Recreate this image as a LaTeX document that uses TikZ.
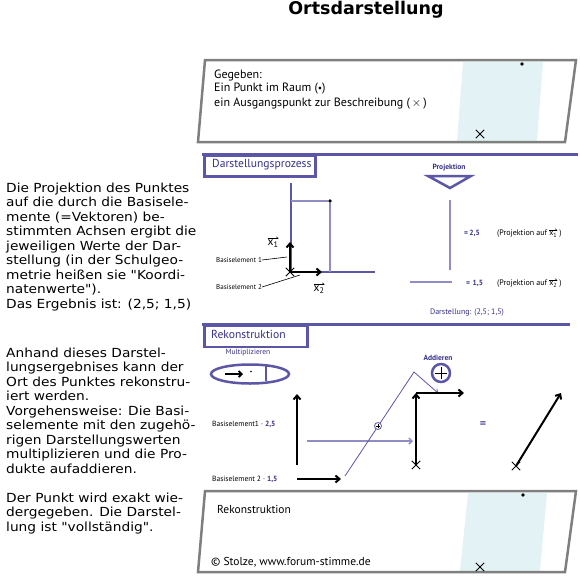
\documentclass[tikz,border=0pt]{standalone}
\usepackage{fontspec}
\setmainfont{PT Sans}
\newfontfamily\verd[FakeStretch=1.1]{DejaVu Sans}
\newfontfamily\verdb{DejaVu Sans}
\usetikzlibrary{arrows.meta,shapes.misc,shapes.geometric}
\definecolor{boxgrey}{HTML}{7F7F7F}
\definecolor{lcyan}{HTML}{E3F2F4}
\definecolor{purp}{HTML}{5B57A6}
\definecolor{lpurp}{HTML}{8F8CC8}
\definecolor{ptext}{HTML}{35318A}
\newsavebox\hvbox
\newcommand\hvec[1]{\sbox\hvbox{#1}%
  \rlap{\raisebox{\dimexpr\ht\hvbox+1.2pt\relax}{\rule{\wd\hvbox}{0.45pt}}}%
  \rlap{\kern\dimexpr\wd\hvbox-2.4pt\relax\raisebox{\dimexpr\ht\hvbox+2.9pt\relax}{\rotatebox{-35}{\rule{2.9pt}{0.45pt}}}}%
  \usebox\hvbox}
\tikzset{
  gbox/.style={draw=boxgrey,line width=2.5pt,line join=miter},
  cyanreg/.style={fill=lcyan,draw=none},
  hdrbox/.style={draw=purp,line width=2.5pt,inner sep=0pt,anchor=north west,fill=white},
  hdrline/.style={draw=purp,line width=3pt},
  hdrtxt/.style={text=ptext,font=\fontsize{11.6}{14}\selectfont,anchor=west,inner sep=0pt},
  boxtxt/.style={font=\fontsize{12}{14}\selectfont,anchor=west,inner sep=0pt},
  small/.style={font=\fontsize{7}{8}\selectfont,inner sep=0pt},
  psmall/.style={font=\fontsize{7.5}{9}\selectfont,text=ptext,inner sep=0pt},
  lefttxt/.style={font={\verd\fontsize{12.5}{14.5}\selectfont},align=left,anchor=north west,inner sep=0pt},
  cross/.style={draw=black,cross out,minimum size=7.5pt,inner sep=0pt,line width=0.9pt},
  pt/.style={circle,fill=black,inner sep=0pt,minimum size=3.6pt},
  barrow/.style={draw=black,line width=2pt,-{Straight Barb[length=4pt,width=7pt]}},
  axis/.style={draw=purp,line width=2pt},
  thinp/.style={draw=lpurp,line width=1.2pt},
  leader/.style={draw=black,line width=0.6pt},
}
\begin{document}
\begin{tikzpicture}[x=1pt,y=-1pt]
\useasboundingbox (0,0) rectangle (580,576);

% Title
\node[font={\verdb\bfseries\fontsize{17.5}{19}\selectfont}] (title) at (366,10) {Ortsdarstellung};

% Left texts
\node[lefttxt] (t1) at (6,182.3) {Die Projektion des Punktes\\auf die durch die Basisele-\\mente (=Vektoren) be-\\stimmten Achsen ergibt die\\jeweiligen Werte der Dar-\\stellung (in der Schulgeo-\\metrie hei\ss en sie "Koordi-\\natenwerte").\\Das Ergebnis ist: (2,5; 1,5)};
\node[lefttxt] (t2) at (6,347.3) {Anhand dieses Darstel-\\lungsergebnises kann der\\Ort des Punktes rekonstru-\\iert werden.\\Vorgehensweise: Die Basi-\\selemente mit den zugeh\"o-\\rigen Darstellungswerten\\multiplizieren und die Pro-\\dukte aufaddieren.};
\node[lefttxt] (t3) at (6,492.3) {Der Punkt wird exakt wie-\\dergegeben. Die Darstel-\\lung ist "vollst\"andig".};

% Box 1: Gegeben
\fill[cyanreg] (463,62) -- (543,62) -- (537,141) -- (457,141) -- cycle;
\draw[gbox] (205,60) -- (576,60) -- (565,142) -- (198,142) -- cycle;
\node[pt] (p1) at (522,64) {};
\node[cross] (c1) at (480,134) {};
\node[boxtxt] (g1) at (214,75) {Gegeben:};
\node[boxtxt] (g2) at (214,89) {Ein Punkt im Raum (\raisebox{0.5pt}{\scalebox{0.8}{•}})};
\node[boxtxt] (g3) at (214,104) {ein Ausgangspunkt zur Beschreibung ($\,\times\,$)};

% Section: Darstellungsprozess
\draw[hdrline] (202,154) -- (578,154);
\node[hdrbox,minimum width=111pt,minimum height=21pt] (hd1) at (203.2,154) {};
\node[hdrtxt] (hd1t) at (212,164.5) {Darstellungsprozess};

\coordinate (O) at (290,272);
\coordinate (ytop) at (291,183);
\coordinate (xend) at (375,272);
\coordinate (py) at (291,201);
\coordinate (px) at (330,272);
\draw[axis] (ytop) -- (291,272) -- (xend);
\node[pt] (P) at (330,201) {};
\draw[thinp] (py) -- (P) -- (px);
\coordinate (e1) at (290,242);
\coordinate (e2) at (322,272);
\draw[barrow] (O) -- (e1);
\draw[barrow] (O) -- (e2);
\node[cross] (cO) at (O) {};
\node[font=\fontsize{11.5}{12}\selectfont,inner sep=0pt] (x1) at (273,242) {\hvec{x\textsubscript{1}}};
\node[font=\fontsize{11.5}{12}\selectfont,inner sep=0pt] (x2) at (319,288) {\hvec{x\textsubscript{2}}};
\node[small,anchor=west] (b1) at (216,260) {Basiselement 1};
\node[small,anchor=west] (b2) at (216,287) {Basiselement 2};
\coordinate (b1e) at (287,257);
\coordinate (b2e) at (300,275);
\draw[leader] (b1.east) -- (b1e);
\draw[leader] (b2.east) -- (b2e);

% Projektion
\node[psmall,font=\bfseries\fontsize{7.5}{9}\selectfont] (proj) at (449,168) {Projektion};
\draw[draw=purp,line width=2.5pt,line join=miter] (428,176) -- (471,176) -- (450,188) -- cycle;
\coordinate (v1) at (450,200);
\coordinate (v2) at (450,270);
\coordinate (h1) at (410,282);
\coordinate (h2) at (452,282);
\draw[draw=lpurp,line width=2pt] (v1) -- (v2);
\draw[draw=lpurp,line width=1.5pt] (h1) -- (h2);
\node[psmall,font=\bfseries\fontsize{7.5}{9}\selectfont,anchor=west] (eq1) at (464,233) {=\,2,5};
\node[psmall,font=\bfseries\fontsize{7.5}{9}\selectfont,anchor=west] (eq2) at (466,283) {=\,\,1,5};
\node[small,font=\fontsize{8}{9}\selectfont,anchor=west] (pr1) at (497,233) {(Projektion auf \hvec{x\textsubscript{1}} )};
\node[small,font=\fontsize{8}{9}\selectfont,anchor=west] (pr2) at (497,283) {(Projektion auf \hvec{x\textsubscript{2}} )};
\node[psmall,font=\fontsize{8}{9}\selectfont] (dar) at (467,313) {Darstellung: (2,5; 1,5)};

% Section: Rekonstruktion
\draw[hdrline] (202,324) -- (570,324);
\node[hdrbox,minimum width=103pt,minimum height=21.5pt] (hd2) at (203.2,324) {};
\node[hdrtxt] (hd2t) at (211,334.5) {Rekonstruktion};

\node[psmall] (mul) at (248,353) {Multiplizieren};
\node[ellipse,draw=purp,line width=2.5pt,minimum width=78pt,minimum height=19pt,inner sep=0pt] (ell) at (250,374) {};
\coordinate (ma1) at (225,374);
\coordinate (ma2) at (243,374);
\draw[draw=black,line width=1.8pt,-{Straight Barb[length=3pt,width=6pt]}] (ma1) -- (ma2);
\fill (251,371.5) circle (0.8);
\coordinate (ml1) at (266,366);
\coordinate (ml2) at (266,381);
\draw[draw=purp,line width=1.5pt] (ml1) -- (ml2);

\coordinate (r1a) at (297,465);
\coordinate (r1b) at (297,394);
\draw[barrow] (r1a) -- (r1b);
\coordinate (r2a) at (297,479);
\coordinate (r2b) at (341,479);
\draw[barrow] (r2a) -- (r2b);
\node[small,font=\fontsize{7.5}{9}\selectfont,anchor=west] (rb1) at (212,424) {Basiselement1 · \textcolor{ptext}{\bfseries 2,5}};
\node[small,font=\fontsize{7.5}{9}\selectfont,anchor=west] (rb2) at (212,479) {Basiselement 2 · \textcolor{ptext}{\bfseries 1,5}};

\coordinate (la1) at (307,441);
\coordinate (la2) at (413,441);
\draw[draw=lpurp,line width=1.5pt,-{Straight Barb[length=3pt,width=6pt]}] (la1) -- (la2);
\coordinate (d1) at (345,476);
\coordinate (d2) at (414,372);
\coordinate (d3) at (438,393);
\draw[draw=purp,line width=0.8pt,-{Straight Barb[length=3pt,width=5pt]}] (d1) -- (d2) -- (d3);
\node[circle,draw=purp,line width=0.8pt,fill=white,minimum size=7pt,inner sep=0pt] (sp) at (378,426) {};
\draw[line width=0.6pt] ([xshift=-2pt]sp.center) -- ([xshift=2pt]sp.center);
\draw[line width=0.6pt] ([yshift=-2pt]sp.center) -- ([yshift=2pt]sp.center);

\node[psmall,font=\bfseries\fontsize{7.5}{9}\selectfont] (add) at (438,358) {Addieren};
\node[circle,draw=purp,line width=2.5pt,minimum size=18pt,inner sep=0pt] (ap) at (441,373) {};
\draw[line width=1pt] ([xshift=-6pt]ap.center) -- ([xshift=6pt]ap.center);
\draw[line width=1pt] ([yshift=-6pt]ap.center) -- ([yshift=6pt]ap.center);

\coordinate (L0) at (416,465);
\coordinate (L1) at (416,393);
\coordinate (L2) at (464,393);
\draw[barrow] (L0) -- (L1);
\draw[barrow] (L1) -- (L2);
\node[cross] (cL) at (L0) {};

\node[font=\bfseries\fontsize{12}{12}\selectfont,text=purp,inner sep=0pt] (eqs) at (483,425) {=};

\coordinate (D0) at (516,466);
\coordinate (D1) at (561,393);
\draw[barrow] (D0) -- (D1);
\node[cross] (cD) at (D0) {};

% Box 4: Rekonstruktion
\fill[cyanreg] (468,493) -- (547,493) -- (540,571) -- (460,571) -- cycle;
\draw[gbox] (205,491) -- (576,491) -- (565,572) -- (198,572) -- cycle;
\node[pt] (p4) at (523,495) {};
\node[cross] (c4) at (480,567) {};
\node[boxtxt,font=\fontsize{11.5}{13}\selectfont] (rk) at (217,509) {Rekonstruktion};
\node[boxtxt,font=\fontsize{11.5}{13}\selectfont] (copy) at (211,562) {© Stolze, www.forum-stimme.de};
\end{tikzpicture}
\end{document}
